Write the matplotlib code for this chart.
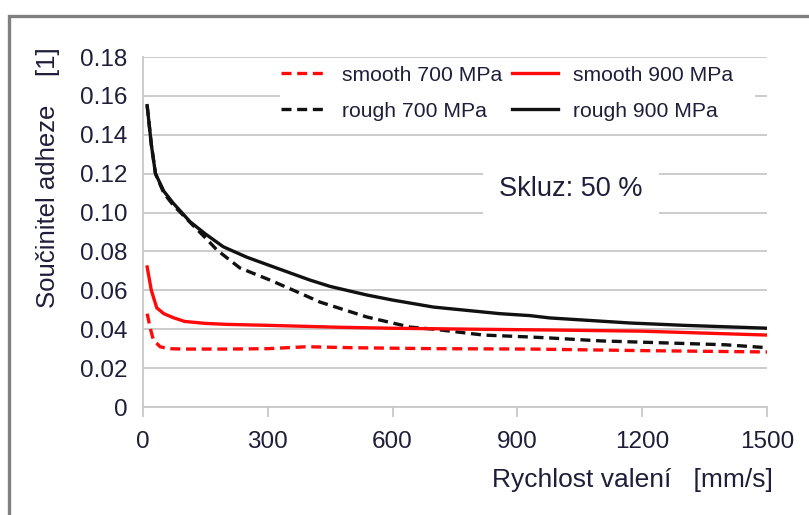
import matplotlib
matplotlib.use("Agg")
import matplotlib.pyplot as plt
from matplotlib.patches import Rectangle

plt.rcParams['font.family'] = ['Liberation Sans', 'DejaVu Sans']

# data
rough900_x = [10, 20, 30, 50, 72, 113, 150, 193, 250, 313, 401, 450, 538, 600, 698, 858, 930, 978, 1171, 1300, 1490, 1500]
rough900_y = [0.155, 0.135, 0.120, 0.111, 0.105, 0.0953, 0.089, 0.0824, 0.077, 0.0721, 0.0653, 0.062, 0.0576, 0.055, 0.0514, 0.048, 0.047, 0.0458, 0.0432, 0.042, 0.0406, 0.0405]

rough700_x = [10, 20, 30, 50, 72, 113, 150, 178, 233, 305, 377, 425, 538, 642, 700, 818, 930, 978, 1100, 1250, 1400, 1500]
rough700_y = [0.155, 0.135, 0.120, 0.110, 0.104, 0.095, 0.087, 0.0807, 0.0715, 0.0653, 0.0586, 0.054, 0.0463, 0.0411, 0.040, 0.037, 0.036, 0.0355, 0.034, 0.033, 0.032, 0.0305]

smooth900_x = [10, 20, 33, 50, 72, 100, 150, 200, 300, 473, 600, 800, 978, 1200, 1500]
smooth900_y = [0.072, 0.060, 0.051, 0.048, 0.046, 0.044, 0.043, 0.0425, 0.042, 0.041, 0.0405, 0.040, 0.0396, 0.039, 0.037]

smooth700_x = [10, 18, 25, 41, 60, 100, 200, 300, 394, 500, 700, 930, 1200, 1500]
smooth700_y = [0.048, 0.040, 0.0345, 0.031, 0.030, 0.0298, 0.0298, 0.030, 0.031, 0.0305, 0.030, 0.0298, 0.029, 0.0283]

xticks = [0, 300, 600, 900, 1200, 1500]
yticks = [0, 0.02, 0.04, 0.06, 0.08, 0.10, 0.12, 0.14, 0.16, 0.18]
ytick_labels = ['0', '0.02', '0.04', '0.06', '0.08', '0.10', '0.12', '0.14', '0.16', '0.18']

TXT = '#1e1e3a'
GRID = '#c8c8c8'

W, H = 809, 515
fig = plt.figure(figsize=(W / 100, H / 100), dpi=100)
fig.patch.set_facecolor('white')

# outer gray frame
fig.patches.append(Rectangle((9 / W, -0.1), 1.2, 1 - 16 / H + 0.1, transform=fig.transFigure,
                             fill=False, edgecolor='#808080', linewidth=2.4, zorder=0))

ax = fig.add_axes([143 / W, 1 - 407 / H, 624 / W, 350 / H])
ax.set_xlim(0, 1500)
ax.set_ylim(0, 0.18)

lw = 2.4
dash = (3.0, 1.7)
RED = '#ff0a0a'
BLK = '#111111'
l1, = ax.plot(smooth700_x, smooth700_y, color=RED, lw=lw, ls=(0, dash), label='smooth 700 MPa', zorder=3)
l2, = ax.plot(rough700_x, rough700_y, color=BLK, lw=lw, ls=(0, dash), label='rough 700 MPa', zorder=3)
l3, = ax.plot(smooth900_x, smooth900_y, color=RED, lw=lw, label='smooth 900 MPa', zorder=3)
l4, = ax.plot(rough900_x, rough900_y, color=BLK, lw=lw, label='rough 900 MPa', zorder=3)

ax.set_yticks(yticks)
ax.set_yticklabels(ytick_labels)
ax.set_xticks(xticks)
ax.grid(axis='y', color=GRID, lw=1.3, zorder=0)
ax.set_axisbelow(True)

for s in ['top', 'right']:
    ax.spines[s].set_visible(False)
for s in ['left', 'bottom']:
    ax.spines[s].set_color(GRID)
    ax.spines[s].set_linewidth(1.3)

ax.tick_params(axis='y', length=0, pad=11, labelsize=17.5, labelcolor=TXT)
ax.tick_params(axis='x', length=7, width=1.3, color=GRID, pad=10, labelsize=17.5, labelcolor=TXT)

ax.set_xlabel('Rychlost valení   [mm/s]', fontsize=19, color=TXT)
ax.xaxis.set_label_coords(0.784, -0.175)
ax.set_ylabel('Součinitel adheze    [1]', fontsize=18.5, color=TXT)
ax.yaxis.set_label_coords(-0.133, 0.654)

# white background behind the legend (hides the 0.16 gridline only)
ax.add_patch(Rectangle((0.22, 0.83), 0.76, 0.135, transform=ax.transAxes,
                       facecolor='white', edgecolor='none', zorder=2))

leg = ax.legend(handles=[l1, l2, l3, l4], ncol=2, loc='upper left',
                bbox_to_anchor=(266 / W, 1 - 51 / H), bbox_transform=fig.transFigure,
                fontsize=15.2, frameon=False, handlelength=2.2,
                columnspacing=0.45, handletextpad=0.7, labelspacing=0.8,
                borderpad=0.2)
for t in leg.get_texts():
    t.set_color(TXT)
leg.set_zorder(4)

ax.text(0.686, 0.623, 'Skluz: 50 %', transform=ax.transAxes, fontsize=19.5, color=TXT,
        ha='center', va='center', zorder=4,
        bbox=dict(boxstyle='square,pad=0.6', facecolor='white', edgecolor='none'))

fig.savefig('out.png', dpi=100, facecolor='white')
